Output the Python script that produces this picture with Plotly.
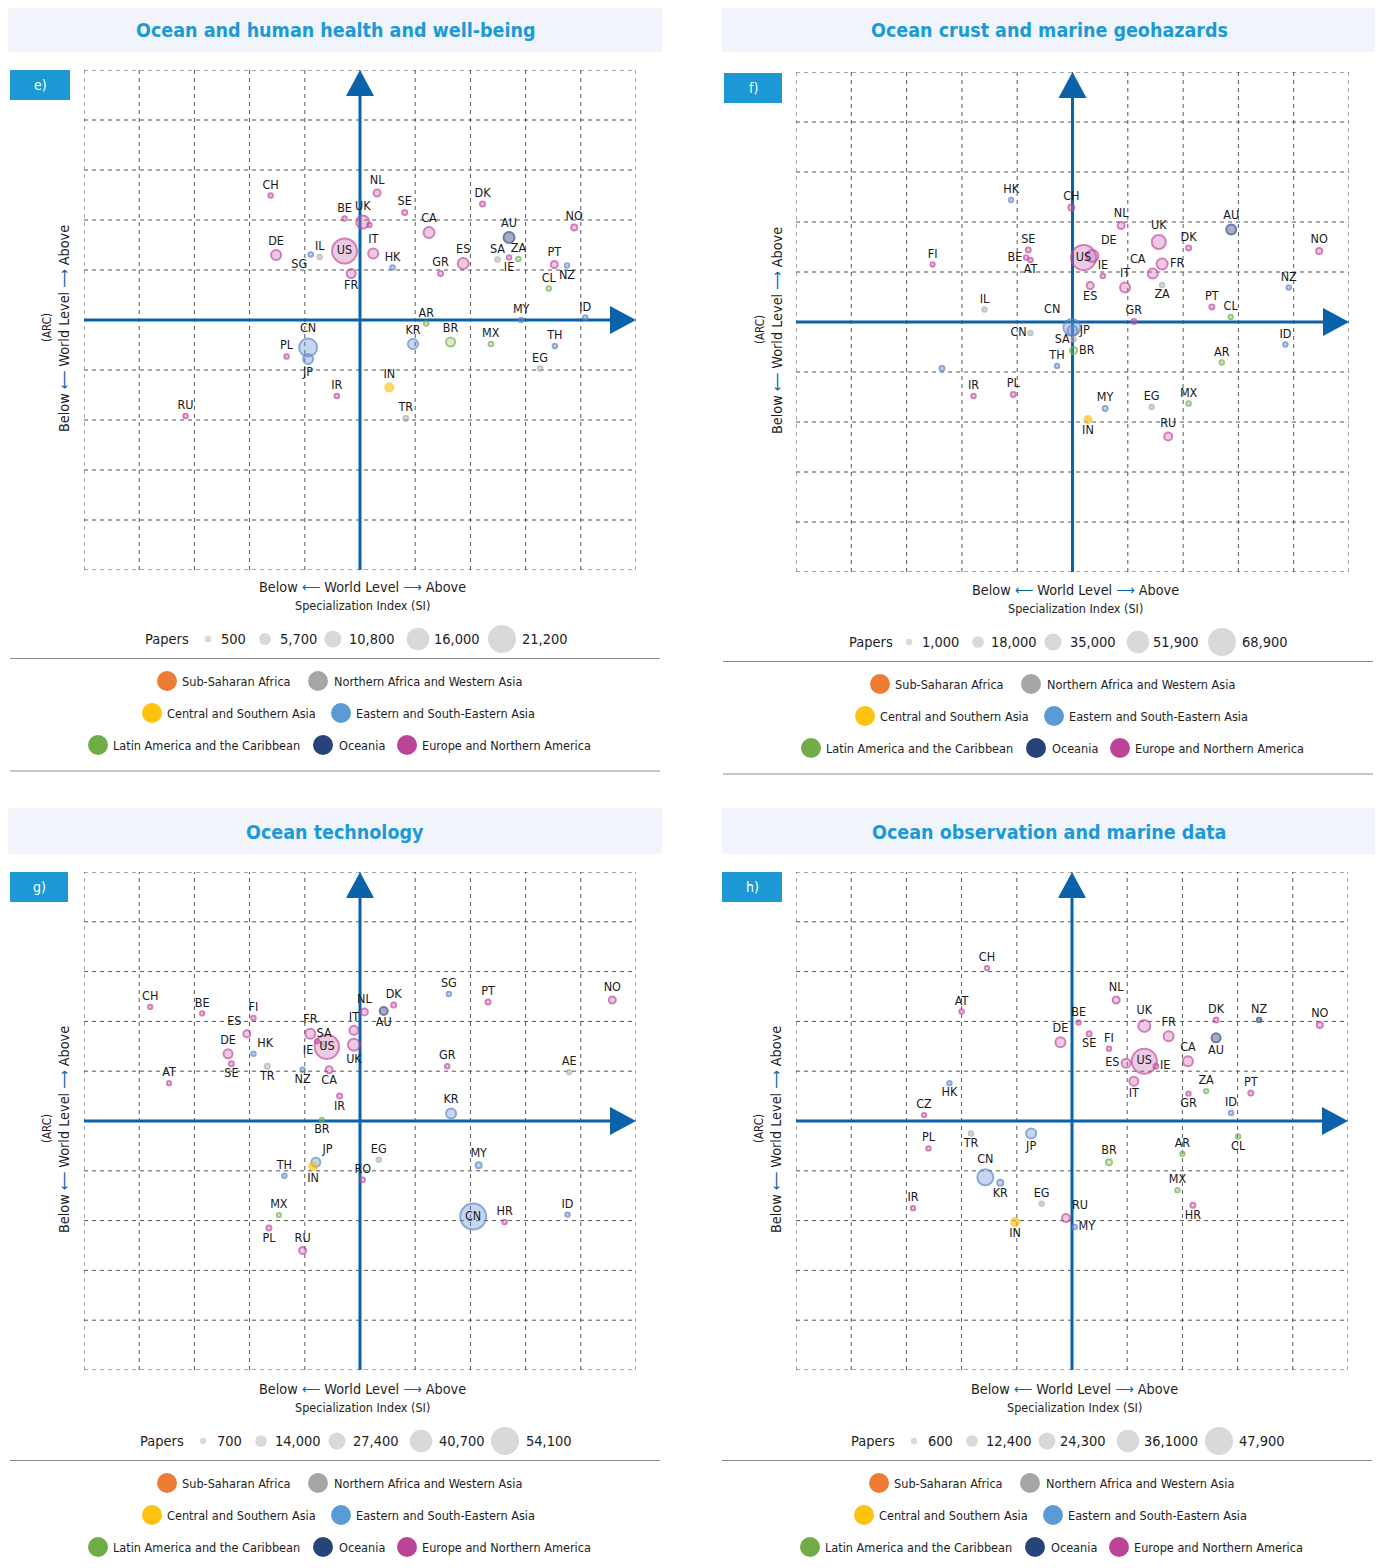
import plotly.graph_objects as go

W, H = 1383, 1568
M = 8  # browser body margin
FW, FH = W - M, H - M
FONT = "'DejaVu Sans Condensed', 'Liberation Sans Narrow', sans-serif"

# ---------------- DATA ----------------
# Panel e) Ocean and human health and well-being
e_codes = ["CH", "NL", "SE", "BE", "UK", "", "CA", "DE", "IL", "SG", "US", "IT", "HK", "GR", "FR", "DK", "NO", "AU", "ES", "SA",
           "IE", "ZA", "PT", "NZ", "CL", "AR", "MY", "ID", "KR", "BR", "MX", "TH", "EG", "TR", "CN", "JP", "PL", "IR", "RU", "IN"]
e_si = [-1.62, 0.31, 0.81, -0.28, 0.05, 0.17, 1.25, -1.52, -0.73, -0.89, -0.28, 0.24, 0.59, 1.46, -0.16, 2.22, 3.88, 2.70, 1.87, 2.49,
        2.70, 2.87, 3.52, 3.75, 3.42, 1.20, 2.92, 4.08, 0.96, 1.64, 2.37, 3.53, 3.26, 0.83, -0.94, -0.94, -1.33, -0.42, -3.16, 0.53]
e_arc = [2.49, 2.54, 2.15, 2.03, 1.96, 1.90, 1.75, 1.30, 1.26, 1.31, 1.38, 1.33, 1.05, 0.93, 0.93, 2.32, 1.85, 1.65, 1.13, 1.21,
         1.25, 1.22, 1.11, 1.09, 0.63, -0.07, 0.00, 0.05, -0.48, -0.44, -0.48, -0.52, -0.97, -1.97, -0.55, -0.78, -0.73, -1.52, -1.92, -1.35]
e_papers = [500, 2900, 1000, 500, 8700, 600, 6700, 5800, 500, 400, 20200, 5800, 500, 900, 4800, 1000, 1900, 6700, 6700, 500,
            400, 500, 2900, 500, 500, 400, 500, 400, 5800, 4800, 500, 500, 500, 900, 13500, 5800, 600, 600, 600, 3900]
e_region = ["ENA", "ENA", "ENA", "ENA", "ENA", "ENA", "ENA", "ENA", "NAWA", "ESEA", "ENA", "ENA", "ESEA", "ENA", "ENA", "ENA", "ENA", "OCE", "ENA", "NAWA",
            "ENA", "LAC", "ENA", "ESEA", "LAC", "LAC", "ESEA", "ESEA", "ESEA", "LAC", "LAC", "ESEA", "NAWA", "NAWA", "ESEA", "ESEA", "ENA", "ENA", "ENA", "CSA"]
e_legend_vals = [500, 5700, 10800, 16000, 21200]
e_legend_txt = ["500", "5,700", "10,800", "16,000", "21,200"]

# Panel f) Ocean crust and marine geohazards
f_codes = ["HK", "CH", "NL", "UK", "SE", "BE", "AT", "FI", "US", "DE", "IE", "IT", "ES", "CA", "FR", "ZA", "IL", "GR", "CN", "JP",
           "CN", "SA", "BR", "TH", "AU", "DK", "NO", "NZ", "PT", "CL", "ID", "AR", "MY", "EG", "MX", "RU", "IN", "IR", "PL", ""]
f_si = [-1.11, -0.02, 0.88, 1.56, -0.80, -0.84, -0.76, -2.53, 0.20, 0.36, 0.55, 0.95, 0.32, 1.45, 1.62, 1.62, -1.59, 1.11, -0.01, 0.00,
        -0.76, 0.02, 0.02, -0.28, 2.87, 2.10, 4.46, 3.91, 2.52, 2.86, 3.85, 2.70, 0.59, 1.43, 2.10, 1.73, 0.28, -1.79, -1.07, -2.36]
f_arc = [2.44, 2.29, 1.93, 1.60, 1.44, 1.29, 1.24, 1.15, 1.29, 1.32, 0.92, 0.69, 0.73, 0.97, 1.16, 0.74, 0.25, 0.01, -0.11, -0.17,
         -0.22, -0.35, -0.57, -0.88, 1.85, 1.48, 1.42, 0.69, 0.30, 0.10, -0.45, -0.81, -1.73, -1.70, -1.63, -2.29, -1.95, -1.48, -1.45, -0.93]
f_papers = [1000, 6300, 9400, 31300, 3100, 1500, 1500, 800, 65800, 25000, 1500, 18800, 9400, 18800, 21900, 1500, 1500, 3100, 40700, 18800,
            1500, 1500, 9400, 1000, 18800, 3100, 6300, 1500, 3100, 1000, 1500, 1500, 3100, 1500, 1500, 12500, 9400, 1500, 3100, 3100]
f_region = ["ESEA", "ENA", "ENA", "ENA", "ENA", "ENA", "ENA", "ENA", "ENA", "ENA", "ENA", "ENA", "ENA", "ENA", "ENA", "NAWA", "NAWA", "ENA", "ESEA", "ESEA",
            "NAWA", "NAWA", "LAC", "ESEA", "OCE", "ENA", "ENA", "ESEA", "ENA", "LAC", "ESEA", "LAC", "ESEA", "NAWA", "LAC", "ENA", "CSA", "ENA", "ENA", "ESEA"]
f_legend_vals = [1000, 18000, 35000, 51900, 68900]
f_legend_txt = ["1,000", "18,000", "35,000", "51,900", "68,900"]

# Panel g) Ocean technology
g_codes = ["CH", "BE", "FI", "ES", "DE", "SE", "HK", "TR", "AT", "NZ", "FR", "IE", "SA", "US", "CA", "IT", "UK", "NL", "AU", "DK",
           "IR", "SG", "PT", "NO", "GR", "AE", "KR", "BR", "JP", "IN", "TH", "EG", "RO", "MY", "CN", "HR", "ID", "RU", "MX", "PL"]
g_si = [-3.80, -2.86, -1.93, -2.05, -2.39, -2.33, -1.93, -1.68, -3.46, -1.04, -0.90, -0.78, -0.65, -0.60, -0.56, -0.11, -0.11, 0.08, 0.43, 0.61,
        -0.37, 1.61, 2.32, 4.57, 1.58, 3.79, 1.65, -0.69, -0.80, -0.85, -1.37, 0.34, 0.05, 2.15, 2.05, 2.62, 3.76, -1.04, -1.47, -1.65]
g_arc = [2.29, 2.16, 2.07, 1.75, 1.35, 1.15, 1.35, 1.10, 0.76, 1.03, 1.75, 1.60, 1.55, 1.49, 1.03, 1.82, 1.53, 2.19, 2.21, 2.33,
         0.50, 2.55, 2.39, 2.43, 1.10, 0.98, 0.15, 0.02, -0.83, -0.91, -1.10, -0.78, -1.18, -0.89, -1.92, -2.03, -1.88, -2.60, -1.89, -2.15]
g_papers = [700, 700, 1200, 7400, 12300, 2500, 1200, 2500, 700, 1200, 14800, 700, 1200, 50000, 7400, 12300, 19700, 7400, 9800, 2500,
            2500, 1200, 2500, 7400, 1200, 700, 14800, 700, 12300, 9800, 1200, 1200, 1200, 4900, 54100, 1200, 1200, 7400, 500, 2500]
g_region = ["ENA", "ENA", "ENA", "ENA", "ENA", "ENA", "ESEA", "NAWA", "ENA", "ESEA", "ENA", "ENA", "NAWA", "ENA", "ENA", "ENA", "ENA", "ENA", "OCE", "ENA",
            "ENA", "ESEA", "ENA", "ENA", "ENA", "NAWA", "ESEA", "LAC", "ESEA", "CSA", "ESEA", "NAWA", "ENA", "ESEA", "ESEA", "ENA", "ESEA", "ENA", "LAC", "ENA"]
g_legend_vals = [700, 14000, 27400, 40700, 54100]
g_legend_txt = ["700", "14,000", "27,400", "40,700", "54,100"]

# Panel h) Ocean observation and marine data
h_codes = ["AT", "CH", "NL", "BE", "SE", "DE", "FI", "UK", "FR", "ES", "US", "IE", "IT", "CA", "DK", "NZ", "AU", "ZA", "GR", "PT",
           "HK", "NO", "CZ", "ID", "PL", "TR", "JP", "CN", "KR", "IR", "EG", "IN", "RU", "MY", "BR", "AR", "MX", "HR", "CL"]
h_si = [-2.00, -1.54, 0.80, 0.12, 0.31, -0.21, 0.67, 1.31, 1.75, 0.98, 1.31, 1.52, 1.12, 2.10, 2.61, 3.39, 2.61, 2.43, 2.11, 3.24,
        -2.22, 4.49, -2.68, 2.88, -2.60, -1.83, -0.74, -1.57, -1.30, -2.88, -0.55, -1.03, -0.11, 0.05, 0.67, 2.00, 1.91, 2.19, 3.01]
h_arc = [2.20, 3.07, 2.43, 1.98, 1.75, 1.58, 1.45, 1.91, 1.70, 1.16, 1.20, 1.10, 0.80, 1.20, 2.03, 2.03, 1.67, 0.60, 0.55, 0.56,
         0.76, 1.93, 0.12, 0.16, -0.55, -0.25, -0.25, -1.13, -1.24, -1.75, -1.66, -2.03, -1.95, -2.13, -0.83, -0.66, -1.39, -1.69, -0.31]
h_papers = [900, 900, 6500, 900, 2200, 13100, 900, 17400, 13100, 10900, 45700, 2200, 10900, 13100, 2200, 900, 10900, 900, 900, 2200,
            900, 4400, 600, 900, 900, 900, 13100, 26100, 4400, 900, 600, 8700, 8700, 900, 4400, 900, 900, 2200, 900]
h_region = ["ENA", "ENA", "ENA", "ENA", "ENA", "ENA", "ENA", "ENA", "ENA", "ENA", "ENA", "ENA", "ENA", "ENA", "ENA", "OCE", "OCE", "LAC", "ENA", "ENA",
            "ESEA", "ENA", "ENA", "ESEA", "ENA", "NAWA", "ESEA", "ESEA", "ESEA", "ENA", "NAWA", "CSA", "ENA", "ESEA", "LAC", "LAC", "LAC", "ENA", "LAC"]
h_legend_vals = [600, 12400, 24300, 36100, 47900]
h_legend_txt = ["600", "12,400", "24,300", "36,1000", "47,900"]

REGION_NAMES = {"SSA": "Sub-Saharan Africa", "NAWA": "Northern Africa and Western Asia",
                "CSA": "Central and Southern Asia", "ESEA": "Eastern and South-Eastern Asia",
                "LAC": "Latin America and the Caribbean", "OCE": "Oceania", "ENA": "Europe and Northern America"}

# ---------------- STYLE ----------------
e_tpos = ["t", "t", "t", "t", "t", "t", "t", "t", "t", "bl", "c", "t", "t", "t", "b", "t", "t", "t", "t", "t",
          "b", "t", "t", "b", "t", "t", "t", "t", "t", "t", "t", "t", "t", "t", "t", "b", "t", "t", "t", "t"]
f_tpos = ["t", "t", "t", "t", "t", "l", "b", "t", "c", "tr", "t", "t", "b", "tl", "r", "b", "t", "t", "tl", "r",
          "l", "l", "r", "t", "t", "t", "t", "t", "t", "t", "t", "t", "t", "t", "t", "t", "b", "t", "t", "t"]
g_tpos = ["t", "t", "t", "tl", "t", "b", "tr", "b", "t", "b", "t", "bl", "t", "c", "b", "t", "b", "t", "b", "t",
          "b", "t", "t", "t", "t", "t", "t", "b", "tr", "b", "t", "t", "t", "t", "c", "t", "t", "t", "t", "b"]
h_tpos = ["t", "t", "t", "t", "b", "t", "t", "t", "t", "l", "c", "r", "b", "t", "t", "t", "b", "t", "b", "t",
          "b", "t", "t", "t", "t", "b", "b", "t", "b", "t", "t", "b", "tr", "r", "t", "t", "t", "b", "b"]
POS = {"t": "top center", "b": "bottom center", "l": "middle left", "r": "middle right", "c": "middle center",
       "tl": "top left", "tr": "top right", "bl": "bottom left", "br": "bottom right"}

FILL = {"SSA": "rgba(237,125,49,0.6)", "NAWA": "rgba(160,160,160,0.55)", "CSA": "rgba(250,192,20,0.92)",
        "ESEA": "rgba(110,150,215,0.55)", "LAC": "rgba(140,195,100,0.45)", "OCE": "rgba(40,60,120,0.6)",
        "ENA": "rgba(200,110,180,0.5)"}
LINE = {"SSA": "#ED7D31", "NAWA": "#ADADAD", "CSA": "#F8C21C", "ESEA": "#5B84C8", "LAC": "#72B04E",
        "OCE": "#2E4478", "ENA": "#C2489E"}
LEGCOL = {"SSA": "#EE7D33", "NAWA": "#A6A6A6", "CSA": "#FFC20E", "ESEA": "#5B9BD5", "LAC": "#70AD47",
          "OCE": "#26437A", "ENA": "#BC4497"}
AX = "#0A62AA"
TITLE_C = "#1B9AD7"
TXT_C = "#1E1E1E"


def msize(p, pmax):
    return 4 + 22 * p / pmax


PANELS = [
    dict(title="Ocean and human health and well-being", tag="e)", codes=e_codes, si=e_si, arc=e_arc, papers=e_papers,
         region=e_region, tpos=e_tpos, lv=e_legend_vals, lt=e_legend_txt,
         gx=(84, 636), gy=(70, 570), band=(8, 662, 6, 52), box=(10, 70, 70, 100), dx=0, lb=570,
         pap=(167, [208, 265, 333, 418, 502], [233, 298, 372, 457, 545])),
    dict(title="Ocean crust and marine geohazards", tag="f)", codes=f_codes, si=f_si, arc=f_arc, papers=f_papers,
         region=f_region, tpos=f_tpos, lv=f_legend_vals, lt=f_legend_txt,
         gx=(796, 1349), gy=(72, 572), band=(722, 1376, 6, 52), box=(724, 782, 73, 103), dx=713, lb=573,
         pap=(158, [196, 265, 340, 425, 509], [227, 301, 380, 463, 552])),
    dict(title="Ocean technology", tag="g)", codes=g_codes, si=g_si, arc=g_arc, papers=g_papers,
         region=g_region, tpos=g_tpos, lv=g_legend_vals, lt=g_legend_txt,
         gx=(84, 636), gy=(872, 1370), band=(8, 662, 808, 854), box=(10, 68, 872, 902), dx=0, lb=1372,
         pap=(162, [203, 261, 337, 421, 505], [229, 298, 376, 462, 549])),
    dict(title="Ocean observation and marine data", tag="h)", codes=h_codes, si=h_si, arc=h_arc, papers=h_papers,
         region=h_region, tpos=h_tpos, lv=h_legend_vals, lt=h_legend_txt,
         gx=(796, 1348), gy=(872, 1370), band=(722, 1376, 808, 854), box=(722, 782, 872, 902), dx=712, lb=1372,
         pap=(161, [202, 260, 335, 416, 507], [228, 297, 371, 459, 550])),
]

LEG_ROWS = [
    (111, [("SSA", 167, 180), ("NAWA", 318, 332)]),
    (143, [("CSA", 152, 165), ("ESEA", 341, 354)]),
    (175, [("LAC", 98, 111), ("OCE", 323, 337), ("ENA", 407, 420)]),
]

fig = go.Figure()
shapes, annos = [], []
layout_axes = {}

OV = dict(xref="x5", yref="y5")


def txt(x, y, text, size=16, color=TXT_C, **kw):
    d = dict(x=x, y=y, text=text, showarrow=False, font=dict(family=FONT, size=size, color=color),
             xanchor=kw.pop("xanchor", "center"), yanchor=kw.pop("yanchor", "middle"), **OV)
    d.update(kw)
    annos.append(d)


for i, P in enumerate(PANELS):
    n = i + 1
    xa = "x" if n == 1 else f"x{n}"
    ya = "y" if n == 1 else f"y{n}"
    xk = "xaxis" if n == 1 else f"xaxis{n}"
    yk = "yaxis" if n == 1 else f"yaxis{n}"
    (gx0, gx1), (gy0, gy1) = P["gx"], P["gy"]
    layout_axes[xk] = dict(domain=[(gx0 - M) / FW, (gx1 - M) / FW], range=[-5, 5], visible=False,
                           fixedrange=True, anchor=ya)
    layout_axes[yk] = dict(domain=[1 - (gy1 - M) / FH, 1 - (gy0 - M) / FH], range=[-5, 5], visible=False,
                           fixedrange=True, anchor=xa)
    ux = (gx1 - gx0) / 10.0
    uy = (gy1 - gy0) / 10.0

    # grid (dashed)
    for k in range(-5, 6):
        shapes.append(dict(type="line", xref=xa, yref=ya, x0=k, x1=k, y0=-5, y1=5, layer="below",
                           line=dict(color="#555555", width=1, dash="4px,4px")))
        shapes.append(dict(type="line", xref=xa, yref=ya, x0=-5, x1=5, y0=k, y1=k, layer="below",
                           line=dict(color="#555555", width=1, dash="4px,4px")))
    # axes with arrowheads
    hb = 26 / uy
    wb = 26 / ux
    shapes.append(dict(type="line", xref=xa, yref=ya, x0=0, x1=0, y0=-5, y1=5 - hb + 0.05, layer="below",
                       line=dict(color=AX, width=3)))
    shapes.append(dict(type="line", xref=xa, yref=ya, x0=-5, x1=5 - wb + 0.05, y0=0, y1=0, layer="below",
                       line=dict(color=AX, width=3)))
    hw = 14 / ux
    hh = 14 / uy
    shapes.append(dict(type="path", xref=xa, yref=ya, layer="below", fillcolor=AX, line=dict(width=0),
                       path=f"M {-hw} {5 - hb} L {hw} {5 - hb} L 0 5 Z"))
    shapes.append(dict(type="path", xref=xa, yref=ya, layer="below", fillcolor=AX, line=dict(width=0),
                       path=f"M {5 - wb} {-hh} L {5 - wb} {hh} L 5 0 Z"))

    # bubbles (large first)
    pmax = P["lv"][-1]
    order = sorted(range(len(P["codes"])), key=lambda j: -P["papers"][j])
    fig.add_trace(go.Scatter(
        x=[P["si"][j] for j in order], y=[P["arc"][j] for j in order],
        text=[P["codes"][j] for j in order],
        textposition=[POS[P["tpos"][j]] for j in order],
        mode="markers+text", xaxis=xa, yaxis=ya, cliponaxis=False, hoverinfo="text",
        textfont=dict(family=FONT, size=12.5, color="#1A1A1A"),
        marker=dict(size=[msize(P["papers"][j], pmax) for j in order],
                    color=[FILL[P["region"][j]] for j in order],
                    line=dict(color=[LINE[P["region"][j]] for j in order], width=2))))

    # title band
    bx0, bx1, by0, by1 = P["band"]
    shapes.append(dict(type="rect", x0=bx0, x1=bx1, y0=by0, y1=by1, fillcolor="#F1F5FB", line=dict(width=0),
                       layer="below", **OV))
    txt((bx0 + bx1) / 2, (by0 + by1) / 2 + 1, f"<b>{P['title']}</b>", size=19.5, color=TITLE_C)
    # tag box
    cx0, cx1, cy0, cy1 = P["box"]
    shapes.append(dict(type="rect", x0=cx0, x1=cx1, y0=cy0, y1=cy1, fillcolor="#1C98D5", line=dict(width=0),
                       layer="below", **OV))
    txt((cx0 + cx1) / 2, (cy0 + cy1) / 2, P["tag"], size=14, color="white")

    dx, lb = P["dx"], P["lb"]
    ccy = (gy0 + gy1) / 2
    arr_l = f"<span style='color:{AX}'>\u27f5</span>"
    arr_r = f"<span style='color:{AX}'>\u27f6</span>"
    txt(dx + 362, lb + 17, f"Below {arr_l} World Level {arr_r} Above", size=14.3)
    txt(dx + 362, lb + 35, "Specialization Index (SI)", size=12.5)
    txt(dx + 64, ccy + 9, f"Below {arr_l} World Level {arr_r} Above", size=14.3, textangle=-90)
    txt(dx + 47, ccy + 8, "(ARC)", size=11.5, textangle=-90)

    # size legend
    plab, pcirc, ptxt = P["pap"]
    py = lb + 69
    txt(dx + plab, py, "Papers", size=14.5)
    fig.add_trace(go.Scatter(x=[dx + c for c in pcirc], y=[py] * len(pcirc), mode="markers",
                             xaxis="x5", yaxis="y5", hoverinfo="skip", cliponaxis=False,
                             marker=dict(size=[msize(v, pmax) for v in P["lv"]], color="#C9C9C9",
                                         line=dict(color="#C9C9C9", width=2))))
    for tx, t in zip(ptxt, P["lt"]):
        txt(dx + tx, py, t, size=14.5)

    # separators
    shapes.append(dict(type="line", x0=dx + 10, x1=dx + 660, y0=lb + 88.5, y1=lb + 88.5,
                       line=dict(color="#8C8C8C", width=1.2), **OV))
    shapes.append(dict(type="line", x0=dx + 10, x1=dx + 660, y0=lb + 201, y1=lb + 201,
                       line=dict(color="#8C8C8C", width=1.2), **OV))

    # region legend
    lx, ly, lc = [], [], []
    for dy, items in LEG_ROWS:
        for key, cxp, txp in items:
            lx.append(dx + cxp)
            ly.append(lb + dy)
            lc.append(LEGCOL[key])
            txt(dx + txp, lb + dy, REGION_NAMES[key], size=12.6, xanchor="left")
    fig.add_trace(go.Scatter(x=lx, y=ly, mode="markers", xaxis="x5", yaxis="y5", hoverinfo="skip",
                             cliponaxis=False, marker=dict(size=20, color=lc, line=dict(width=0))))

layout_axes["xaxis5"] = dict(domain=[0, 1], range=[M, W], visible=False, fixedrange=True, anchor="y5")
layout_axes["yaxis5"] = dict(domain=[0, 1], range=[H, M], visible=False, fixedrange=True, anchor="x5")

fig.update_layout(width=FW, height=FH, margin=dict(l=0, r=0, t=0, b=0), showlegend=False,
                  paper_bgcolor="white", plot_bgcolor="rgba(0,0,0,0)",
                  shapes=shapes, annotations=annos, font=dict(family=FONT), **layout_axes)

fig.write_html("out.html")
